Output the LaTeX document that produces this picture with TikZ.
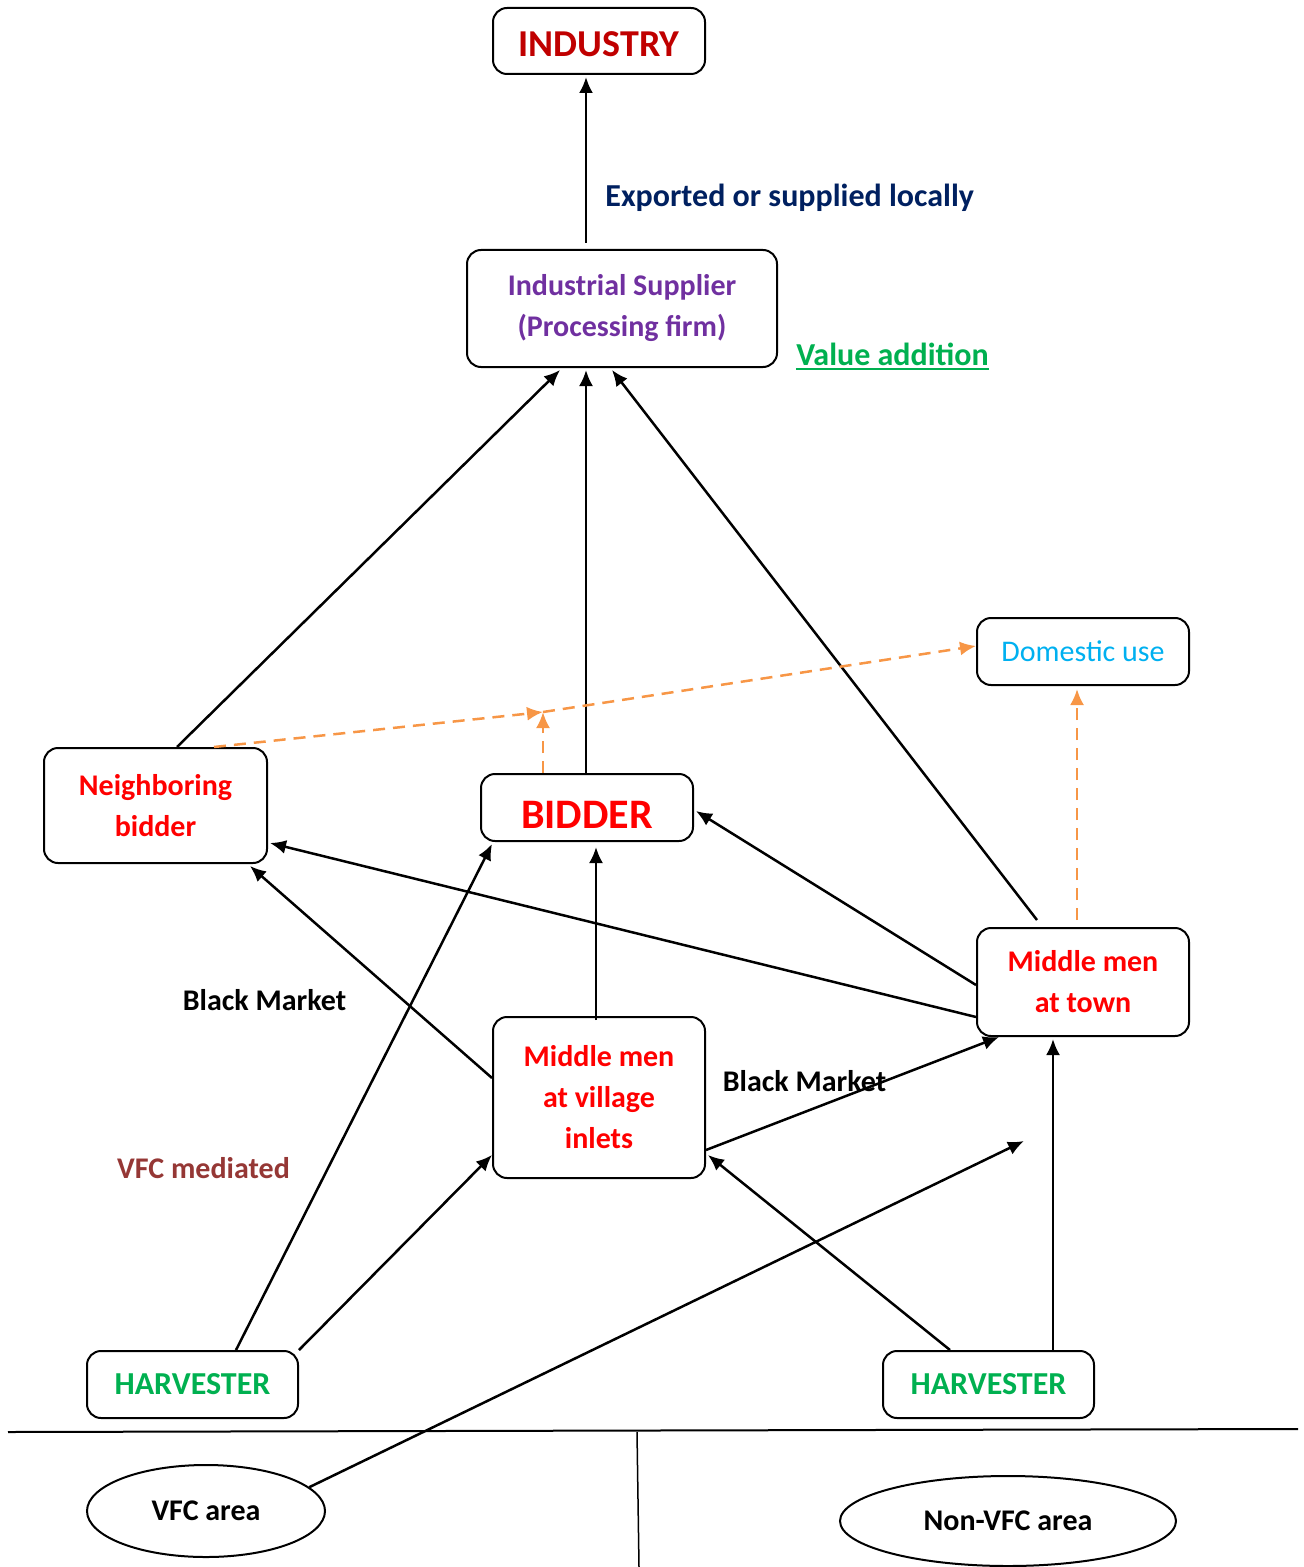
\documentclass[tikz,border=0pt]{standalone}
\usepackage{fontspec}
\setmainfont{Carlito}
\usetikzlibrary{arrows.meta,shapes.geometric}
\definecolor{indred}{HTML}{C00000}
\definecolor{suppurple}{HTML}{7030A0}
\definecolor{domblue}{HTML}{00B0F0}
\definecolor{harvgreen}{HTML}{00B050}
\definecolor{expnavy}{HTML}{002060}
\definecolor{vfcbrown}{HTML}{953735}
\definecolor{domorange}{HTML}{F79646}
\begin{document}
\begin{tikzpicture}[x=0.5pt,y=-0.5pt,
    box/.style={draw,line width=1pt,rounded corners=7pt,align=center,inner sep=0pt,
        font=\bfseries\fontsize{15}{20.5}\selectfont},
    area/.style={draw,ellipse,line width=1pt,inner sep=0pt,
        font=\bfseries\fontsize{15}{20.5}\selectfont},
    lbl/.style={inner sep=0pt,font=\bfseries\fontsize{15}{20.5}\selectfont},
    >={Latex[length=8pt,width=7pt]}]
			\useasboundingbox (0,0) rectangle (1303,1567);

			\node[box,minimum width=106pt,minimum height=33pt,text=indred,text height=15.5pt,text depth=0pt,
			    font=\bfseries\fontsize{19}{22}\selectfont] (ind) at (599,41) {INDUSTRY};
			\node[box,minimum width=155pt,minimum height=58.5pt,text=suppurple] (sup) at (622,308.5) {Industrial Supplier\\(Processing firm)};
			\node[box,minimum width=106pt,minimum height=33.5pt,text=domblue,
			    font=\fontsize{15}{20.5}\selectfont] (dom) at (1083,651.5) {Domestic use};
			\node[box,minimum width=111.5pt,minimum height=57.5pt,text=red] (nbid) at (155.5,805.5) {Neighboring\\bidder};
			\node[box,minimum width=106pt,minimum height=33.5pt,text=red,text height=20.5pt,text depth=0pt,
			    font=\bfseries\fontsize{21}{24}\selectfont] (bid) at (587,807.5) {BIDDER};
			\node[box,minimum width=106pt,minimum height=54pt,text=red] (town) at (1083,982) {Middle men\\at town};
			\node[box,minimum width=106pt,minimum height=80.5pt,text=red] (vil) at (599,1097.5) {Middle men\\at village\\inlets};
			\node[box,minimum width=105.5pt,minimum height=33.5pt,text=harvgreen,
			    font=\bfseries\fontsize{16}{20.5}\selectfont] (hl) at (192.5,1384.5) {HARVESTER};
			\node[box,minimum width=105.5pt,minimum height=33.5pt,text=harvgreen,
			    font=\bfseries\fontsize{16}{20.5}\selectfont] (hr) at (988.5,1384.5) {HARVESTER};
			\node[area,minimum width=119pt,minimum height=46pt] (vfc) at (206,1511) {VFC area};
			\node[area,minimum width=168pt,minimum height=45pt] (nvfc) at (1008,1521) {Non-VFC area};

			\node[lbl,anchor=west,text=expnavy,font=\bfseries\fontsize{16}{20.5}\selectfont] (exp) at (605,198) {Exported or supplied locally};
			\node[lbl,text=harvgreen,font=\bfseries\fontsize{16}{20.5}\selectfont] (val) at (892.5,354) {Value addition};
			\draw[harvgreen,line width=1pt] ([yshift=-2pt]val.base west) -- ([yshift=-2pt]val.base east);
			\node[lbl] (bm1) at (264.5,1000) {Black Market};
			\node[lbl] (bm2) at (804.5,1081) {Black Market};
			\node[lbl,text=vfcbrown] (vfcm) at (203.5,1168) {VFC mediated};

			\coordinate (vend) at (1024,1141);
			\coordinate (jn) at (543,712);

			\begin{scope}[->,line width=1.25pt]
			    \draw ([xshift=-18pt,yshift=3pt]sup.north) -- ([xshift=-6.5pt,yshift=-1pt]ind.south);
			    \draw ([xshift=10.75pt]nbid.north) -- ([xshift=-31pt,yshift=-1pt]sup.south);
			    \draw ([xshift=-0.5pt]bid.north) -- ([xshift=-18pt,yshift=-1pt]sup.south);
			    \draw ([xshift=-23pt,yshift=3.5pt]town.north) -- ([xshift=-5pt,yshift=-1pt]sup.south);
			    \draw ([yshift=-17.5pt]town.west) -- ([yshift=-18.75pt,xshift=1pt]nbid.east);
			    \draw ([yshift=-1.5pt]town.west) -- ([yshift=-1.75pt,xshift=1pt]bid.east);
			    \draw ([xshift=-1.5pt,yshift=-2pt]vil.north) -- ([xshift=4.5pt,yshift=-2.5pt]bid.south);
			    \draw ([yshift=9.75pt]vil.west) -- ([xshift=47.25pt,yshift=-1pt]nbid.south);
			    \draw ([xshift=21.75pt]hl.north) -- ([xshift=6pt,yshift=-1pt]bid.south west);
			    \draw (hl.north east) -- ([yshift=-28.75pt]vil.west);
			    \draw ([yshift=-26.25pt]vil.east) -- ([xshift=11.5pt]town.south west);
			    \draw ([xshift=-19.25pt]hr.north) -- ([xshift=1pt,yshift=-28.75pt]vil.east);
			    \draw ([xshift=32.25pt]hr.north) -- ([xshift=-15pt,yshift=-1pt]town.south);
			    \draw (vfc.13) -- (vend);
			\end{scope}

			\begin{scope}[->,line width=1.25pt,domorange,dash pattern=on 6pt off 4pt]
			    \draw ([xshift=29.25pt]nbid.north) -- (jn);
			    \draw (jn) -- ([yshift=2.75pt]dom.west);
			    \draw ([xshift=-22pt]bid.north) -- (jn);
			    \draw ([xshift=-3pt,yshift=3.5pt]town.north) -- ([xshift=-3pt,yshift=-1.5pt]dom.south);
			\end{scope}

			\draw[line width=1pt] (8,1432) -- (1298,1429);
			\draw[line width=0.75pt] (637,1432) -- (639,1567);
\end{tikzpicture}
\end{document}
